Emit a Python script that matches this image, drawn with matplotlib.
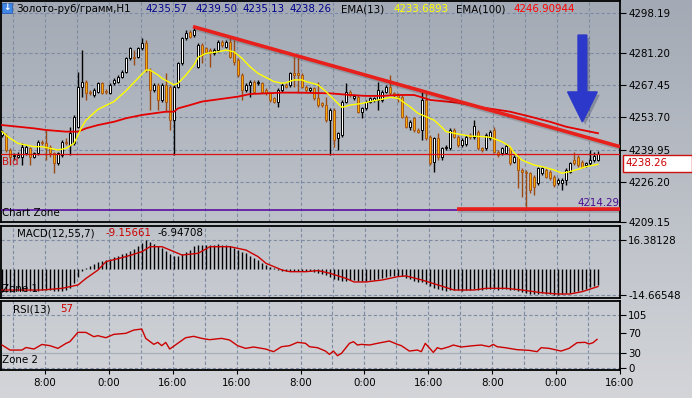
import numpy as np
import matplotlib.pyplot as plt
import matplotlib.patheffects as pe
from matplotlib.colors import LinearSegmentedColormap
from matplotlib.patches import FancyArrow, Rectangle

W, H = 692, 398
plt.rcParams['font.family'] = ['DejaVu Sans']
FS = 7.4

### Price data, H1 bars

opens = [4246.2, 4246.2, 4239.8, 4237.2, 4237.0, 4237.0, 4238.4, 4240.5, 4237.0, 4238.4,
         4243.3, 4242.6, 4241.2, 4238.4, 4234.1, 4237.7, 4243.3, 4241.9, 4242.6, 4249.7,
         4266.7, 4268.9, 4264.6, 4263.2, 4264.6, 4268.2, 4264.9, 4264.2, 4268.2, 4268.9,
         4271.0, 4273.1, 4278.8, 4279.5, 4279.5, 4283.1, 4285.2, 4273.8, 4265.3, 4267.5,
         4261.1, 4267.5, 4266.7, 4252.5, 4266.7, 4276.7, 4287.3, 4290.1, 4288.7, 4275.2,
         4284.5, 4283.1, 4282.3, 4280.9, 4282.3, 4285.9, 4283.8, 4285.9, 4281.6, 4278.1,
         4271.7, 4265.3, 4267.5, 4268.9, 4268.2, 4268.2, 4265.3, 4263.9, 4261.8, 4260.4,
         4265.3, 4267.5, 4267.5, 4272.4, 4272.4, 4271.7, 4266.7, 4265.3, 4266.0, 4261.8,
         4259.6, 4258.9, 4252.5, 4256.8, 4244.8, 4246.2, 4260.4, 4264.6, 4261.8, 4262.5,
         4256.1, 4257.5, 4260.4, 4261.1, 4261.1, 4261.1, 4264.6, 4266.7, 4263.9, 4263.2,
         4262.5, 4254.0, 4249.7, 4253.3, 4248.3, 4248.3, 4261.1, 4245.5, 4234.8, 4244.8,
         4237.0, 4240.5, 4240.5, 4248.3, 4245.5, 4241.9, 4242.3, 4246.2, 4245.2, 4247.6,
         4240.5, 4240.5, 4244.8, 4248.3, 4239.1, 4238.4, 4238.7, 4240.5, 4234.8, 4237.0,
         4231.3, 4230.6, 4229.9, 4228.4, 4225.6, 4229.9, 4231.3, 4230.6, 4228.4, 4225.6,
         4225.6, 4227.0, 4230.6, 4235.5, 4237.0, 4234.8, 4233.4, 4234.1, 4235.5, 4235.57]
highs = [4248.3, 4246.9, 4240.5, 4238.4, 4239.1, 4242.6, 4241.9, 4241.2, 4239.1, 4244.0,
         4244.0, 4248.3, 4241.9, 4239.1, 4239.1, 4244.0, 4244.8, 4249.7, 4254.7, 4273.1,
         4282.3, 4269.6, 4265.3, 4266.0, 4268.9, 4268.9, 4265.6, 4268.2, 4270.3, 4271.7,
         4273.8, 4279.5, 4283.8, 4282.3, 4283.8, 4287.3, 4286.6, 4274.5, 4268.2, 4268.2,
         4268.2, 4272.4, 4267.5, 4267.5, 4277.4, 4288.0, 4290.9, 4290.9, 4292.6, 4285.2,
         4285.2, 4283.8, 4283.1, 4283.1, 4286.6, 4286.6, 4286.6, 4287.3, 4286.6, 4278.8,
         4272.4, 4268.2, 4269.6, 4269.6, 4269.6, 4268.9, 4266.0, 4264.6, 4262.5, 4266.0,
         4268.2, 4268.2, 4273.1, 4279.5, 4278.8, 4272.4, 4267.5, 4266.7, 4266.7, 4268.9,
         4260.4, 4262.5, 4257.5, 4257.5, 4247.6, 4261.1, 4268.2, 4265.3, 4263.6, 4263.2,
         4258.2, 4261.1, 4262.5, 4262.5, 4268.9, 4265.3, 4267.5, 4271.7, 4264.6, 4263.9,
         4263.2, 4254.7, 4252.5, 4254.0, 4249.0, 4264.6, 4263.9, 4246.2, 4245.5, 4246.9,
         4241.2, 4241.9, 4249.0, 4249.0, 4246.2, 4244.8, 4246.2, 4246.9, 4252.5, 4248.3,
         4241.2, 4246.9, 4248.3, 4249.7, 4239.8, 4241.2, 4242.3, 4241.2, 4237.7, 4237.7,
         4232.0, 4231.3, 4230.6, 4229.1, 4232.7, 4232.7, 4232.0, 4231.3, 4229.1, 4227.7,
         4227.7, 4232.0, 4234.8, 4239.1, 4237.7, 4235.5, 4234.8, 4239.8, 4239.1, 4239.50]
lows = [4245.5, 4239.1, 4233.4, 4235.5, 4236.2, 4233.4, 4237.7, 4233.4, 4236.2, 4237.7,
        4241.9, 4235.5, 4237.0, 4230.1, 4233.4, 4237.0, 4241.9, 4237.7, 4241.9, 4249.0,
        4262.5, 4261.1, 4263.2, 4262.5, 4263.9, 4263.6, 4263.6, 4263.6, 4267.5, 4268.2,
        4270.3, 4272.4, 4278.1, 4276.0, 4278.8, 4282.3, 4273.1, 4256.8, 4264.6, 4256.8,
        4260.4, 4256.1, 4248.3, 4237.7, 4266.0, 4276.0, 4286.6, 4287.3, 4288.0, 4274.5,
        4276.7, 4280.9, 4275.2, 4280.2, 4281.6, 4283.8, 4283.1, 4278.8, 4276.0, 4271.0,
        4261.1, 4264.6, 4262.5, 4263.9, 4267.5, 4263.9, 4263.2, 4260.4, 4259.6, 4257.9,
        4264.6, 4266.0, 4266.7, 4266.7, 4263.9, 4266.0, 4264.6, 4264.6, 4261.1, 4258.2,
        4258.2, 4251.8, 4237.7, 4241.2, 4239.8, 4245.5, 4259.6, 4262.5, 4261.1, 4255.4,
        4253.3, 4256.8, 4259.6, 4260.4, 4256.8, 4260.4, 4263.9, 4263.2, 4262.5, 4260.4,
        4253.3, 4249.0, 4248.3, 4247.6, 4246.9, 4244.0, 4244.0, 4233.4, 4230.6, 4235.5,
        4235.5, 4239.8, 4239.8, 4244.8, 4241.2, 4241.2, 4241.5, 4244.3, 4244.6, 4239.8,
        4239.1, 4239.8, 4244.0, 4238.4, 4237.0, 4237.7, 4238.1, 4233.4, 4234.1, 4223.5,
        4219.9, 4215.0, 4221.3, 4220.6, 4224.9, 4229.1, 4227.7, 4227.0, 4224.2, 4224.9,
        4222.8, 4224.9, 4229.9, 4233.4, 4232.7, 4232.0, 4232.7, 4233.4, 4234.8, 4235.13]
closes = [4247.6, 4239.8, 4237.0, 4237.7, 4237.7, 4241.2, 4241.2, 4237.0, 4238.4, 4243.3,
          4242.6, 4240.5, 4238.4, 4234.1, 4238.4, 4243.3, 4242.6, 4246.9, 4254.0, 4266.7,
          4268.9, 4263.9, 4263.9, 4265.3, 4268.4, 4264.2, 4264.3, 4267.5, 4269.6, 4271.0,
          4273.1, 4278.8, 4283.1, 4278.8, 4283.1, 4285.2, 4273.8, 4265.3, 4267.5, 4261.1,
          4267.5, 4260.4, 4252.5, 4266.7, 4276.7, 4287.3, 4289.4, 4288.0, 4290.9, 4284.5,
          4280.2, 4281.6, 4280.9, 4282.3, 4285.9, 4284.5, 4285.9, 4279.5, 4277.4, 4271.7,
          4265.3, 4267.5, 4268.9, 4264.6, 4268.9, 4264.6, 4263.9, 4261.1, 4260.4, 4265.3,
          4267.5, 4266.7, 4272.4, 4271.7, 4271.7, 4266.7, 4265.3, 4266.0, 4261.8, 4258.9,
          4258.9, 4252.5, 4256.8, 4244.0, 4246.9, 4260.4, 4264.6, 4263.2, 4262.8, 4256.1,
          4257.5, 4260.4, 4261.8, 4261.8, 4265.3, 4264.6, 4266.7, 4263.9, 4263.2, 4262.5,
          4254.0, 4249.7, 4251.8, 4248.3, 4247.6, 4261.1, 4244.8, 4234.1, 4244.8, 4237.0,
          4240.5, 4241.2, 4248.3, 4245.5, 4241.9, 4244.0, 4245.2, 4245.2, 4250.0, 4240.5,
          4239.8, 4246.2, 4247.6, 4239.1, 4237.7, 4240.5, 4241.5, 4234.1, 4237.0, 4231.3,
          4230.6, 4229.9, 4222.8, 4224.2, 4232.0, 4232.0, 4228.4, 4227.7, 4224.9, 4227.0,
          4227.0, 4231.3, 4234.1, 4234.1, 4233.4, 4232.7, 4234.1, 4235.5, 4237.2, 4238.26]

# EMA lines, sampled at bar indices
ema13_x = [0, 2, 4, 6, 8, 10, 12, 14, 16, 18, 20, 21, 24, 28, 31, 34, 36, 37, 39, 40,
           43, 44, 46, 48, 49, 51, 54, 56, 58, 60, 62, 64, 68, 70, 71, 73, 75, 76, 79, 81,
           84, 85, 87, 90, 92, 95, 97, 99, 102, 104, 106, 108, 110, 111, 114, 117, 120, 122, 125, 127,
           128, 130, 133, 135, 138, 140, 142, 144, 146, 149]
ema13_y = [4247.6, 4244.8, 4242.6, 4241.9, 4241.2, 4241.2, 4240.5, 4239.8, 4240.5, 4242.6,
           4249.7, 4252.5, 4257.1, 4260.4, 4265.0, 4270.3, 4273.8, 4273.8, 4271.7, 4270.3,
           4267.5, 4268.2, 4271.7, 4276.0, 4279.2, 4280.9, 4281.6, 4282.3, 4281.6, 4278.8,
           4275.2, 4272.4, 4268.9, 4268.2, 4268.4, 4269.6, 4269.6, 4268.9, 4267.5, 4264.6,
           4259.6, 4257.9, 4258.9, 4259.6, 4260.4, 4261.4, 4262.2, 4261.8, 4258.2, 4255.4,
           4254.0, 4252.5, 4249.4, 4247.6, 4246.6, 4245.7, 4245.5, 4245.2, 4243.3, 4241.2,
           4238.7, 4235.5, 4233.4, 4232.7, 4231.3, 4229.9, 4230.6, 4231.6, 4232.7, 4233.69]
ema100_x = [0, 4, 8, 11, 16, 19, 21, 24, 28, 31, 33, 35, 38, 41, 43, 44, 47, 50, 53, 56,
            59, 62, 70, 74, 82, 87, 91, 95, 99, 103, 105, 107, 111, 114, 120, 127, 132, 137, 141, 145, 149]
ema100_y = [4250.4, 4249.7, 4249.0, 4248.3, 4247.6, 4247.6, 4249.0, 4250.4, 4251.8, 4253.3,
            4254.0, 4254.7, 4255.4, 4256.1, 4256.1, 4257.5, 4258.9, 4260.4, 4261.1, 4261.8,
            4262.5, 4263.6, 4264.2, 4264.2, 4263.9, 4263.2, 4262.8, 4262.8, 4263.2, 4263.2,
            4262.2, 4261.1, 4260.4, 4259.9, 4257.9, 4256.1, 4254.0, 4251.8, 4249.7, 4248.3, 4246.91]

# MACD(12,55,7): histogram per bar and signal line samples
macd_hist = [-12.8, -12.9, -12.8, -12.7, -12.6, -12.6, -12.4, -12.3, -12.2, -12.2,
             -12.1, -12.0, -12.1, -12.2, -12.3, -12.2, -11.6, -10.5, -8.0, -4.5,
             -1.2, 0.6, 1.5, 2.8, 3.8, 4.5, 5.2, 5.9, 6.6, 7.4,
             8.2, 9.0, 10.2, 11.5, 12.8, 14.5, 16.4, 15.2, 14.0, 12.8,
             11.6, 10.3, 8.6, 7.5, 7.3, 8.3, 9.5, 11.0, 12.8, 13.6,
             13.8, 13.7, 13.6, 13.8, 13.9, 13.6, 13.4, 12.8, 11.8, 10.8,
             9.8, 8.9, 7.6, 6.3, 5.1, 3.6, 2.3, 1.0, 0.3, -0.5,
             -1.0, -1.3, -1.2, -1.0, -0.9, -1.1, -1.3, -1.2, -1.5, -2.0,
             -2.8, -3.6, -4.3, -5.6, -6.4, -6.8, -6.6, -6.2, -6.4, -6.9,
             -7.0, -6.8, -6.4, -6.0, -5.4, -5.0, -4.6, -4.2, -4.0, -3.8,
             -4.2, -4.9, -5.6, -6.5, -7.3, -7.3, -8.2, -9.8, -10.5, -11.2,
             -12.0, -12.4, -12.0, -11.8, -12.1, -12.2, -12.0, -11.8, -11.2, -11.6,
             -11.7, -11.2, -11.0, -11.5, -11.8, -11.5, -11.2, -11.8, -12.0, -12.6,
             -13.0, -13.5, -14.0, -14.3, -14.0, -13.8, -14.0, -14.3, -14.67, -14.5,
             -14.2, -13.6, -13.6, -13.0, -12.4, -11.6, -11.0, -10.2, -9.6, -9.0]
sig_x = [0, 10, 15, 19, 21, 24, 26, 31, 35, 37, 40, 43, 45, 49, 52, 57, 61, 64, 66, 70,
         72, 76, 79, 82, 86, 88, 91, 95, 99, 101, 105, 109, 113, 118, 121, 126, 130, 135, 139, 142,
         145, 149]
sig_y = [-11.85, -11.85, -10.9, -9.0, -5.3, -0.56, 4.15, 7.0, 9.8, 12.6,
         12.6, 9.8, 7.9, 8.85, 12.6, 12.6, 10.7, 7.0, 3.2, -0.56,
         -1.5, -1.5, -0.9, -2.4, -5.3, -7.3, -7.3, -6.2, -4.3, -3.9,
         -6.2, -9.0, -11.85, -11.85, -10.9, -10.9, -11.85, -13.4, -14.1, -14.1,
         -12.8, -9.9]

# RSI(13) samples
rsi_x = [0, 2, 5, 6, 8, 10, 12, 14, 16, 17, 19, 21, 23, 24, 26, 28, 31, 33, 35, 36,
         38, 39, 40, 41, 42, 44, 46, 48, 50, 52, 55, 57, 59, 61, 63, 66, 68, 70, 72, 74,
         76, 77, 79, 81, 82, 83, 84, 85, 87, 88, 89, 90, 92, 94, 97, 99, 100, 102, 104, 105,
         106, 108, 109, 110, 112, 113, 115, 118, 120, 122, 123, 124, 126, 129, 132, 134, 135, 137, 140, 142,
         144, 146, 147, 148, 149]
rsi_y = [45.9, 36, 36, 41, 38, 47, 44.6, 39.3, 49, 52.5, 70.8, 70.8, 62.3, 64.3, 60.3, 66.9, 68.9, 75.4, 77.4, 59,
         47.2, 51.2, 44.6, 51, 38, 49.2, 60.3, 63, 59, 56.4, 59, 55.7, 44.6, 39.3, 42, 38, 32.8, 42.6, 44.6, 51.2,
         49.2, 42.6, 40.6, 34, 27.5, 34, 24.9, 29.5, 49.2, 52.5, 45.9, 47.2, 45.9, 49.2, 53.8, 47.2, 44.6, 34, 36, 32.8,
         49.2, 31.4, 40.6, 38, 42.6, 45.9, 42, 44.6, 45.9, 42.6, 47.2, 42.6, 40.6, 36.7, 35.4, 32.8, 40.6, 39.3, 34, 39.3,
         50.5, 51.2, 47.9, 50.5, 57]

# drawn objects
trend_x = [47.75, 154.5]
trend_y = [4292.3, 4241.2]
support_x = [113.75, 154.5]
support_y = 4214.6
zone_level = 4214.29
bid = 4238.26
arrow_bar, arrow_top, arrow_tip = 145.1, 4288.7, 4251.7

price_ticks = [4298.19, 4281.20, 4267.45, 4253.70, 4239.95, 4226.20, 4209.15]
macd_ticks = [16.38128, -14.66548]
rsi_ticks = [105, 70, 30, 0]
time_ticks = [10.75, 26.75, 42.75, 58.75, 74.75, 90.75, 106.75, 122.75, 138.75, 154.75]
time_labels = ['8:00', '0:00', '16:00', '16:00', '8:00', '0:00', '16:00', '8:00', '0:00', '16:00']
grid_bars = [2.75 + 8 * k for k in range(19)]

### Figure

fig = plt.figure(figsize=(W / 100, H / 100), dpi=100)

def rect(x0, y0, x1, y1):
    return [x0 / W, 1 - y1 / H, (x1 - x0) / W, (y1 - y0) / H]

def ftext(x, y, s, color='black', **kw):
    fig.text(x / W, 1 - y / H, s, color=color, fontsize=FS, va='center', ha='left', **kw)

bg = fig.add_axes([0, 0, 1, 1], zorder=-10)
grad = np.linspace(0, 1, 256).reshape(-1, 1)
bg.imshow(grad, aspect='auto', extent=[0, 1, 0, 1], origin='upper',
          cmap=LinearSegmentedColormap.from_list('bg', ['#a3aab5', '#d3d5d9']))
bg.axis('off')

ax_main = fig.add_axes(rect(1, 1, 620, 222))
ax_macd = fig.add_axes(rect(1, 226, 620, 298))
ax_rsi = fig.add_axes(rect(1, 301, 620, 370))

grid_c = '#7d8ca3'
for ax in (ax_main, ax_macd, ax_rsi):
    ax.set_facecolor('none')
    ax.set_xlim(-0.25, 154.5)
    for s in ax.spines.values():
        s.set_color('black')
        s.set_linewidth(1.3)
    ax.yaxis.tick_right()
    ax.tick_params(axis='y', length=4, width=0.8, pad=2, labelsize=FS, colors='black')
    ax.set_xticks([])
    for g in grid_bars:
        ax.axvline(g, color=grid_c, lw=0.8, ls=(0, (3, 2)), zorder=1)

# main price panel
ax_main.set_ylim(4209.15, 4303.19)
ax_main.set_yticks(price_ticks)
ax_main.set_yticklabels(['%.2f' % v for v in price_ticks])
for v in price_ticks:
    ax_main.axhline(v, color=grid_c, lw=0.8, ls=(0, (3, 2)), zorder=1)

o = np.array(opens); h = np.array(highs); l = np.array(lows); c = np.array(closes)
xb = np.arange(len(c))
up = c >= o
wick_c = np.where(up, 'black', '#9a4a12')
ax_main.vlines(xb, l, h, colors=wick_c, lw=1, zorder=3)
ax_main.bar(xb, np.maximum(np.abs(c - o), 0.4), bottom=np.minimum(o, c), width=0.64,
            color=np.where(up, 'white', '#f7aa00'), edgecolor=np.where(up, 'black', '#a8581a'),
            lw=0.7, zorder=4)

ax_main.plot(ema100_x, ema100_y, color='#e40000', lw=1.3, zorder=5)
ax_main.plot(ema13_x, ema13_y, color='#ffff00', lw=1.0, zorder=6)
ax_main.axhline(bid, color='#dd1111', lw=0.9, zorder=5)
ax_main.axhline(zone_level, color='#5a0fa0', lw=1.2, zorder=5)

shadow = [pe.SimpleLineShadow(offset=(1, -1.5), alpha=0.15), pe.Normal()]
ax_main.plot(trend_x, trend_y, color='#e8201c', lw=2.6, zorder=7, path_effects=shadow,
             solid_capstyle='butt')
ax_main.plot(support_x, [support_y, support_y], color='#e8201c', lw=2.6, zorder=7,
             path_effects=shadow, solid_capstyle='butt')

arr = FancyArrow(arrow_bar, arrow_top, 0, arrow_tip - arrow_top, width=2.2, head_width=7.4,
                 head_length=12.8, length_includes_head=True, color='#2c38c9', zorder=8)
arr.set_path_effects([pe.SimplePatchShadow(offset=(2, -2), alpha=0.25), pe.Normal()])
ax_main.add_patch(arr)

# MACD panel
ax_macd.set_ylim(-16.36, 24.28)
ax_macd.set_yticks(macd_ticks)
ax_macd.set_yticklabels(['16.38128', '-14.66548'])
for v in macd_ticks:
    ax_macd.axhline(v, color=grid_c, lw=0.8, ls=(0, (3, 2)), zorder=1)
ax_macd.vlines(xb, 0, macd_hist, colors='black', lw=1, zorder=3)
ax_macd.plot(sig_x, sig_y, color='#cc0000', lw=1, zorder=4)

# RSI panel
ax_rsi.set_ylim(-3.3, 132.6)
ax_rsi.set_yticks(rsi_ticks)
ax_rsi.set_yticklabels([str(v) for v in rsi_ticks])
ax_rsi.axhline(105, color=grid_c, lw=0.8, ls=(0, (3, 2)), zorder=1)
ax_rsi.axhline(0, color=grid_c, lw=0.8, ls=(0, (3, 2)), zorder=1)
ax_rsi.axhline(30, color='#a9aeb6', lw=0.9, zorder=1)
ax_rsi.plot(rsi_x, rsi_y, color='#cc0000', lw=1, zorder=4)
ax_rsi.set_xticks(time_ticks)
ax_rsi.set_xticklabels(time_labels)
ax_rsi.tick_params(axis='x', length=3, width=0.8, pad=3, labelsize=FS)

# header texts
fig.patches.append(Rectangle((2 / W, 1 - 13 / H), 10 / W, 10 / H, transform=fig.transFigure,
                             facecolor='#3f86e6', edgecolor='#2a5fb0', lw=0.6))
fig.text(7 / W, 1 - 8 / H, '↓', color='white', fontsize=6.5, ha='center', va='center',
         fontweight='bold')
ftext(16, 9, 'Золото-руб/грамм,H1')
for xx, s in zip([145, 195, 243, 290], ['4235.57', '4239.50', '4235.13', '4238.26']):
    ftext(xx, 9, s, color='#00008b')
ftext(341, 9, 'EMA(13)')
ftext(393, 9, '4233.6893', color='#ffff00')
ftext(456, 9, 'EMA(100)')
ftext(513, 9, '4246.90944', color='#ff0000')

ftext(2, 162, 'Bid', color='#cc1111')
ftext(2, 213, 'Chart Zone')
ftext(578, 203, '4214.29', color='#4b0f90')
ftext(17, 233, 'MACD(12,55,7)')
ftext(105, 233, '-9.15661', color='#cc0000')
ftext(157, 233, '-6.94708')
ftext(2, 289, 'Zone 1')
ftext(13, 309, 'RSI(13)')
ftext(60, 309, '57', color='#cc0000')
ftext(2, 360, 'Zone 2')

fig.patches.append(Rectangle((623 / W, 1 - 172 / H), 69 / W, 17 / H, transform=fig.transFigure,
                             facecolor='white', edgecolor='#d01010', lw=1))
ftext(626, 163.5, '4238.26', color='#cc0000')

fig.savefig('out.png', dpi=100)
